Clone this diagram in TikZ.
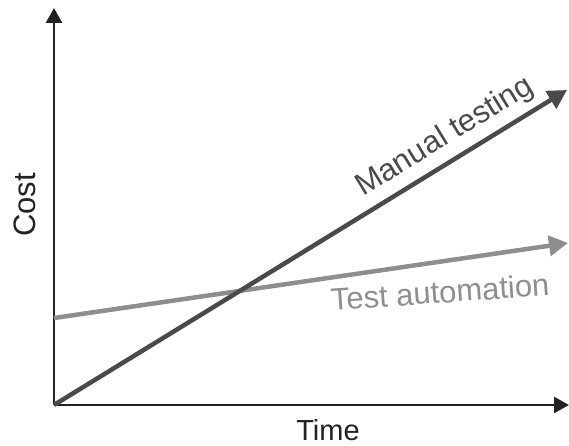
\documentclass[tikz,border=0pt]{standalone}
\usepackage{fontspec}
\setmainfont{Liberation Sans}
\usepackage{xcolor}
\usepackage{tikz}
\usetikzlibrary{arrows.meta}
\definecolor{ink}{HTML}{222222}
\definecolor{manualc}{HTML}{4A4A4A}
\definecolor{autoc}{HTML}{8E8E8E}
\tikzset{
  axis/.style={-{Triangle[length=15pt,width=16pt]}, line width=2.6pt, draw=ink},
  trend/.style={-{Triangle[length=19pt,width=20pt]}, line width=4.5pt},
  lbl/.style={font=\fontsize{31}{34}\selectfont, inner sep=0pt},
}

\begin{document}
\begin{tikzpicture}[x=1pt, y=1pt]
  \useasboundingbox (0,0) rectangle (569,445);
  \coordinate (o) at (54,40);
  \coordinate (ytop) at (54,437);
  \coordinate (xend) at (569,40);
  \coordinate (mend) at (567,355);
  \coordinate (astart) at (54,127);
  \coordinate (aend) at (568,202);
  % axes
  \draw[axis] (o) -- (ytop);
  \draw[axis] (o) -- (xend);
  % cost lines
  \draw[trend, draw=autoc] (astart) -- (aend);
  \draw[trend, draw=manualc] (o) -- (mend);
  % labels
  \node[lbl, text=ink, rotate=90] (cost) at (25,240) {Cost};
  \node[lbl, text=ink, font=\fontsize{29}{32}\selectfont] (time) at (328,15) {Time};
  \node[lbl, text=manualc, rotate=31.5] (manual) at (445,308) {Manual testing};
  \node[lbl, text=autoc, rotate=4] (auto) at (440,153) {Test automation};
\end{tikzpicture}
\end{document}
